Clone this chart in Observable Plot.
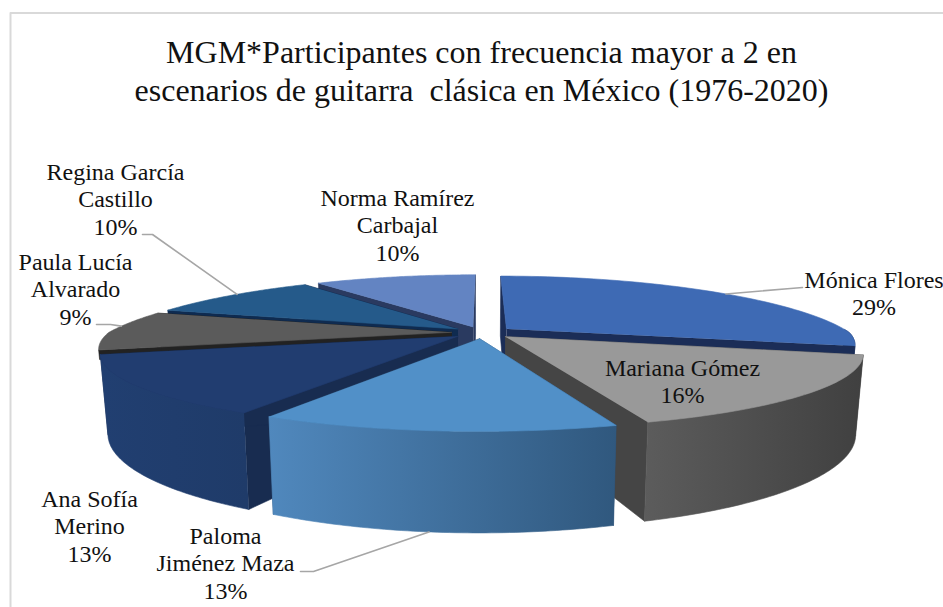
<!DOCTYPE html>
<html lang="es">
<head>
<meta charset="utf-8">
<style>html,body{margin:0;padding:0;background:#fff;overflow:hidden}svg{display:block}</style>
<script src="https://cdn.jsdelivr.net/npm/d3@7"></script>
<script src="https://cdn.jsdelivr.net/npm/@observablehq/plot@0.6"></script>
</head>
<body>
<div id="chart"></div>
<script>
const titleLines = ["MGM*Participantes con frecuencia mayor a 2 en", "escenarios de guitarra \u00a0clásica en México (1976-2020)"];
const names = ["Mónica Flores", "Mariana Gómez", "Paloma\nJiménez Maza", "Ana Sofía\nMerino", "Paula Lucía\nAlvarado", "Regina García\nCastillo", "Norma Ramírez\nCarbajal"];
const values = [29, 16, 13, 13, 9, 10, 10];

// colours: top face, cut face, wall gradient start/end
const topColors = ["#3e6ab4", "#999999", "#5190c8", "#213d70", "#5b5b5b", "#255a8a", "#6384c2"];
const cutColors = ["#1b2d57", "#454545", "#2f5277", "#182c50", "#222222", "#0f2b50", "#2a3a60"];
const wallFrom  = ["#1b2d57", "#5c5c5c", "#5088bd", "#213f71", "#444444", "#1c446a", "#4a6492"];
const wallTo    = ["#1b2d57", "#404040", "#30587e", "#1f3b69", "#333333", "#163654", "#3a5078"];
const paintOrder = [0, 6, 5, 4, 3, 1, 2];
// how far down each slice's first cut face is drawn (the rest is hidden in the reference)
const cutDepth = [1, 1, 1, 1, 0.12, 0.12, 1];

// label layout: centre x, first-line centre y
const labelX = [873.5, 682, 225, 89, 75, 115, 397];
const labelY = [281, 369, 537, 500, 263, 173, 199];
// leaders: elbow start, elbow, point on the pie rim (percent round the pie, 0 top / 1 base)
const leaders = [
  {slice: 0, from: [802, 287], elbow: [790, 288], at: 14.5, z: 0},
  {slice: 2, from: [300, 571], elbow: [313, 571], at: 51.8, z: 1},
  {slice: 4, from: [96, 324],  elbow: [110, 324], at: 76.5, z: 0},
  {slice: 5, from: [142, 234], elbow: [152, 234], at: 85.4, z: 0}
];

// pie camera
const cx = 482, cy = 332, Rx = 343, Ry = 67, H = 75, pxFront = 0.22, pxBack = 0.32, py = 0.24, explode = 0.09;
const total = d3.sum(values);
const starts = d3.cumsum([0, ...values]);
const mid = i => (starts[i] + values[i] / 2) / total * 2 * Math.PI;

function project(pct, r, i, z) {
  const t = pct / total * 2 * Math.PI, m = mid(i);
  const X = r * Math.sin(t) + explode * Math.sin(m);
  const Y = -r * Math.cos(t) - explode * Math.cos(m);
  const sx = 1 / (1 - (Y < 0 ? pxBack : pxFront) * Y), sy = 1 / (1 - py * Y);
  return {x: cx + Rx * X * sx * (1 - 0.02 * z), y: cy + (Ry * Y + H * z) * sy};
}
const arc = (a, b) => d3.range(0, 61).map(k => a + (b - a) * k / 60);

function poly(pts, fill) {
  return Plot.line(pts, {x: "x", y: "y", fill, stroke: fill, strokeWidth: 0.6});
}

const sliceMarks = paintOrder.flatMap(i => {
  const a = starts[i], b = a + values[i];
  const cut = (p, d) => [project(0, 0, i, 0), project(p, 1, i, 0), project(p, 1, i, d), project(0, 0, i, d)];
  const front = arc(a, b).filter(p => Math.cos(p / total * 2 * Math.PI) <= 0);
  const marks = [poly(cut(a, cutDepth[i]), cutColors[i]), poly(cut(b, 1), cutColors[i])];
  if (front.length > 1 && cutDepth[i] === 1) {
    marks.push(poly([...front.map(p => project(p, 1, i, 0)), ...front.slice().reverse().map(p => project(p, 1, i, 1))], `url(#wall${i})`));
  }
  marks.push(poly([project(0, 0, i, 0), ...arc(a, b).map(p => project(p, 1, i, 0))], topColors[i]));
  return marks;
});

// gradients mark
const defs = () => {
  const d = d3.create("svg:defs");
  values.forEach((_, i) => {
    const g = d.append("linearGradient").attr("id", `wall${i}`);
    g.append("stop").attr("offset", "0%").attr("stop-color", wallFrom[i]);
    g.append("stop").attr("offset", "100%").attr("stop-color", wallTo[i]);
  });
  return d.node();
};

const serif = "'Liberation Serif','Times New Roman',serif";
const labels = names.map((n, i) => ({text: `${n}\n${values[i]}%`, x: labelX[i], y: labelY[i]}));
const leaderPaths = leaders.flatMap((l, j) => {
  const end = project(l.at, 1, l.slice, l.z);
  return [{j, x: l.from[0], y: l.from[1]}, {j, x: l.elbow[0], y: l.elbow[1]}, {j, x: end.x, y: end.y}];
});
const border = [{x: 10, y: 607}, {x: 10, y: 12.5}, {x: 943, y: 12.5}];

const chart = Plot.plot({
  width: 943, height: 607, margin: 0,
  style: {background: "#fff", fontFamily: serif, overflow: "hidden"},
  x: {domain: [0, 943], range: [0, 943], axis: null},
  y: {domain: [0, 607], range: [0, 607], axis: null},
  marks: [
    defs,
    Plot.line(border, {x: "x", y: "y", stroke: "#d9d9d9", strokeWidth: 2}),
    ...sliceMarks,
    Plot.line(leaderPaths, {x: "x", y: "y", z: "j", stroke: "#a6a6a6", strokeWidth: 1.6}),
    Plot.text(labels, {x: "x", y: "y", text: "text", textAnchor: "middle", lineAnchor: "top", dy: -13, lineHeight: 1.14, fontSize: 24, fill: "#111"}),
    Plot.text(titleLines, {x: () => 481, y: (d, i) => [52, 90][i], text: d => d, textAnchor: "middle", lineAnchor: "middle", fontSize: 32, fill: "#111"})
  ]
});
document.getElementById("chart").append(chart);
</script>
</body>
</html>
